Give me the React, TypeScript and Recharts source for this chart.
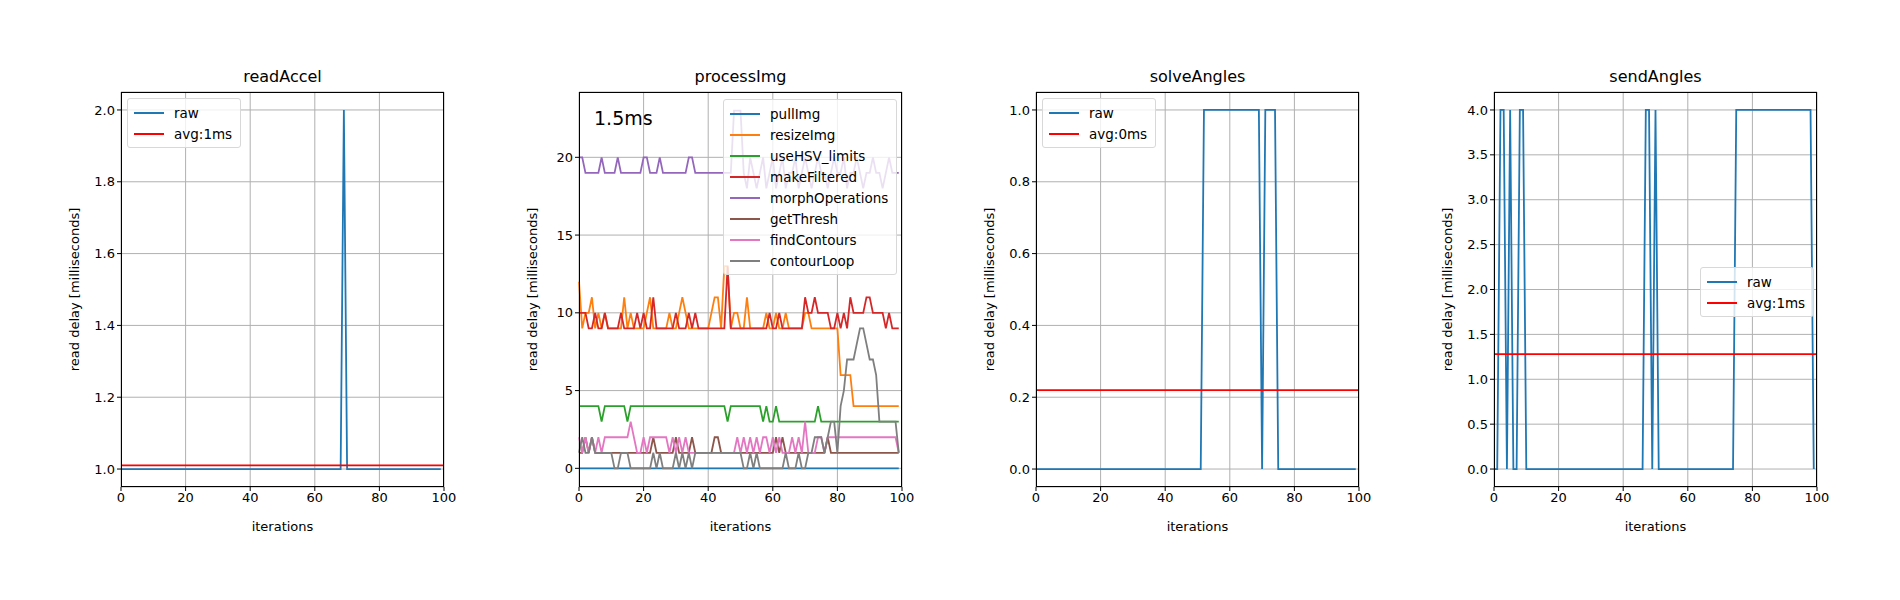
import React from "react"
import { LineChart, Line, XAxis, YAxis, CartesianGrid, ReferenceLine } from "recharts"

const iterations = Array.from({ length: 100 }, (_, i) => i)
const xTicks = [0, 20, 40, 60, 80, 100]

// readAccel
const accelRaw = [1,1,1,1,1,1,1,1,1,1,1,1,1,1,1,1,1,1,1,1,1,1,1,1,1,1,1,1,1,1,1,1,1,1,1,1,1,1,1,1,1,1,1,1,1,1,1,1,1,1,1,1,1,1,1,1,1,1,1,1,1,1,1,1,1,1,1,1,1,2,1,1,1,1,1,1,1,1,1,1,1,1,1,1,1,1,1,1,1,1,1,1,1,1,1,1,1,1,1,1]
const accelAvg = 1.01

// processImg
const pullImg = iterations.map(() => 0)
const resizeImg = [12,9,10,10,11,9,10,9,10,9,9,9,9,9,11,9,10,9,9,9,9,10,11,9,9,9,9,9,10,9,9,10,11,10,9,9,9,9,9,9,9,10,11,11,9,13,13,9,10,10,9,9,11,9,9,9,9,9,10,9,9,10,9,9,10,9,9,9,9,9,10,10,9,9,9,9,9,9,9,9,9,6,6,6,6,4,4,4,4,4,4,4,4,4,4,4,4,4,4,4]
const useHSV = [4,4,4,4,4,4,4,3,4,4,4,4,4,4,4,3,4,4,4,4,4,4,4,4,4,4,4,4,4,4,4,4,4,4,4,4,4,4,4,4,4,4,4,4,4,4,3,4,4,4,4,4,4,4,4,4,4,3,4,3,3,4,3,3,3,3,3,3,3,3,3,3,3,3,4,3,3,3,3,3,3,3,3,3,3,3,3,3,3,3,3,3,3,3,3,3,3,3,3,3]
const makeFiltered = [10,10,10,9,9,10,9,9,10,9,9,9,9,10,9,9,9,9,10,9,10,9,9,11,9,9,9,9,9,9,10,9,9,9,10,9,10,9,9,9,9,9,9,9,9,9,13,9,9,9,9,9,9,9,9,9,9,9,9,10,9,9,10,9,9,9,9,9,9,9,11,10,10,11,10,10,10,10,9,9,10,9,10,9,11,10,10,10,10,11,11,10,10,10,10,9,10,9,9,9]
const morphOps = [20,20,19,19,19,19,19,20,19,19,19,19,20,19,19,19,19,19,19,19,20,20,19,19,19,20,19,19,19,19,19,19,19,19,20,20,19,19,19,19,19,19,19,19,19,19,19,19,23,23,23,19,18,20,19,18,19,20,18,19,20,18,19,20,18,19,19,20,18,19,20,19,18,19,20,19,19,18,19,20,19,19,20,18,19,19,20,19,18,19,19,20,19,19,18,19,20,19,19,19]
const getThresh = [1,1,2,1,2,1,1,1,1,1,1,1,1,1,1,1,1,1,1,1,1,1,1,2,1,1,1,1,1,1,2,1,1,1,1,2,1,1,1,1,1,1,2,2,1,1,1,1,1,1,1,1,1,1,1,1,1,1,1,1,1,2,1,2,1,1,1,1,1,1,1,1,1,1,1,1,1,2,1,1,1,1,1,1,1,1,1,1,1,1,1,1,1,1,1,1,1,1,1,1]
const findContours = [2,1,2,1,2,1,2,1,2,2,2,2,2,2,2,2,3,2,1,1,2,1,2,2,2,2,2,2,1,2,1,2,1,2,1,1,1,1,1,1,1,1,1,1,1,1,1,1,1,2,1,2,1,2,1,2,1,2,2,1,2,1,2,1,1,1,2,1,2,1,3,1,1,1,2,2,1,2,2,2,2,2,2,2,2,2,2,2,2,2,2,2,2,2,2,2,2,2,2,1]
const contourLoop = [1,2,1,1,2,1,1,1,1,1,1,0,0,1,1,1,0,0,0,0,0,0,0,1,0,1,0,0,0,0,1,0,1,0,1,0,1,1,1,1,1,1,1,1,1,1,1,1,1,1,1,0,0,1,0,1,0,0,0,0,0,0,0,0,1,0,0,0,1,0,0,1,1,2,2,2,1,2,3,3,1,4,5,7,7,7,8,9,9,8,7,7,6,3,3,3,3,3,3,1]
const processSeries = [
  { name: "pullImg", values: pullImg, color: "#1f77b4" },
  { name: "resizeImg", values: resizeImg, color: "#ff7f0e" },
  { name: "useHSV_limits", values: useHSV, color: "#2ca02c" },
  { name: "makeFiltered", values: makeFiltered, color: "#d62728" },
  { name: "morphOperations", values: morphOps, color: "#9467bd" },
  { name: "getThresh", values: getThresh, color: "#8c564b" },
  { name: "findContours", values: findContours, color: "#e377c2" },
  { name: "contourLoop", values: contourLoop, color: "#7f7f7f" },
]

// solveAngles
const solveRaw = iterations.map(i => (i >= 52 && i <= 69) || (i >= 71 && i <= 74) ? 1 : 0)
const solveAvg = 0.22

// sendAngles
const sendRaw = [0,0,4,4,0,4,0,0,4,4,0,0,0,0,0,0,0,0,0,0,0,0,0,0,0,0,0,0,0,0,0,0,0,0,0,0,0,0,0,0,0,0,0,0,0,0,0,4,4,0,4,0,0,0,0,0,0,0,0,0,0,0,0,0,0,0,0,0,0,0,0,0,0,0,0,4,4,4,4,4,4,4,4,4,4,4,4,4,4,4,4,4,4,4,4,4,4,4,4,0]
const sendAvg = 1.28

const font = "DejaVu Sans, sans-serif"
const tick = { fill: "#000", fontSize: 13, fontFamily: font }

type Panel = {
  title: string
  left: number
  yDomain: [number, number]
  yTicks: number[]
  fmt: (v: number) => string
  series: { name: string; values: number[]; color: string }[]
  avg?: number
  legend: { x: number; y: number; items: { name: string; color: string }[] }
}

const panels: Panel[] = [
  {
    title: "readAccel", left: 121, yDomain: [0.95, 2.05], yTicks: [1, 1.2, 1.4, 1.6, 1.8, 2],
    fmt: v => v.toFixed(1), series: [{ name: "raw", values: accelRaw, color: "#1f77b4" }], avg: accelAvg,
    legend: { x: 127, y: 98, items: [{ name: "raw", color: "#1f77b4" }, { name: "avg:1ms", color: "#ff0000" }] },
  },
  {
    title: "processImg", left: 579, yDomain: [-1.2, 24.2], yTicks: [0, 5, 10, 15, 20],
    fmt: v => String(v), series: processSeries,
    legend: { x: 723, y: 99, items: processSeries },
  },
  {
    title: "solveAngles", left: 1036, yDomain: [-0.05, 1.05], yTicks: [0, 0.2, 0.4, 0.6, 0.8, 1],
    fmt: v => v.toFixed(1), series: [{ name: "raw", values: solveRaw, color: "#1f77b4" }], avg: solveAvg,
    legend: { x: 1042, y: 98, items: [{ name: "raw", color: "#1f77b4" }, { name: "avg:0ms", color: "#ff0000" }] },
  },
  {
    title: "sendAngles", left: 1494, yDomain: [-0.2, 4.2], yTicks: [0, 0.5, 1, 1.5, 2, 2.5, 3, 3.5, 4],
    fmt: v => v.toFixed(1), series: [{ name: "raw", values: sendRaw, color: "#1f77b4" }], avg: sendAvg,
    legend: { x: 1700, y: 267, items: [{ name: "raw", color: "#1f77b4" }, { name: "avg:1ms", color: "#ff0000" }] },
  },
]

const plotTop = 92
const plotW = 323
const plotH = 395

function PanelChart({ p }: { p: Panel }) {
  const data = iterations.map(i => {
    const row: Record<string, number> = { x: i }
    p.series.forEach(s => { row[s.name] = s.values[i] })
    return row
  })
  return (
    <>
      <div style={{ position: "absolute", left: p.left - 60, top: plotTop - 42 }}>
        <LineChart width={plotW + 60 + 20} height={42 + plotH + 50} data={data}
          margin={{ top: 42, right: 20, bottom: 0, left: 0 }}>
          <CartesianGrid stroke="#b0b0b0" strokeWidth={1} />
          <XAxis dataKey="x" type="number" domain={[0, 100]} ticks={xTicks} height={50}
            tick={tick} tickLine={{ stroke: "#000" }} axisLine={false} tickSize={4} interval={0}
            label={{ value: "iterations", position: "insideBottom", offset: 6, fill: "#000", fontSize: 13, fontFamily: font }} />
          <YAxis type="number" domain={p.yDomain} ticks={p.yTicks} width={60} tickFormatter={p.fmt}
            tick={tick} tickLine={{ stroke: "#000" }} axisLine={false} tickSize={4} allowDataOverflow interval={0}
            label={{ value: "read delay [milliseconds]", angle: -90, position: "center", dx: -17, fill: "#000", fontSize: 13, fontFamily: font }} />
          {p.series.map(s => (
            <Line key={s.name} dataKey={s.name} stroke={s.color} strokeWidth={1.8} dot={false}
              type="linear" isAnimationActive={false} />
          ))}
          {p.avg !== undefined && <ReferenceLine y={p.avg} stroke="#ff0000" strokeWidth={1.8} />}
        </LineChart>
      </div>
      <div style={{ position: "absolute", left: p.left, top: plotTop, width: plotW - 2, height: plotH - 2,
        border: "1px solid #000", pointerEvents: "none" }} />
      <div style={{ position: "absolute", left: p.left, top: plotTop - 25, width: plotW, textAlign: "center",
        fontFamily: font, fontSize: 16 }}>{p.title}</div>
      <div style={{ position: "absolute", left: p.legend.x, top: p.legend.y, padding: "3px 8px 3px 6px",
        background: "rgba(255,255,255,0.8)", border: "1px solid #d8d8d8", borderRadius: 3,
        fontFamily: font, fontSize: 13.5 }}>
        {p.legend.items.map(it => (
          <div key={it.name} style={{ display: "flex", alignItems: "center", height: 21 }}>
            <span style={{ display: "inline-block", width: 30, height: 2, background: it.color, marginRight: 10 }} />
            {it.name}
          </div>
        ))}
      </div>
    </>
  )
}

export default function App() {
  return (
    <div style={{ position: "absolute", left: 0, top: 0, width: 1900, height: 600, background: "#fff" }}>
      {panels.map(p => <PanelChart key={p.title} p={p} />)}
      <div style={{ position: "absolute", left: 594, top: 107, fontFamily: font, fontSize: 19 }}>1.5ms</div>
    </div>
  )
}
